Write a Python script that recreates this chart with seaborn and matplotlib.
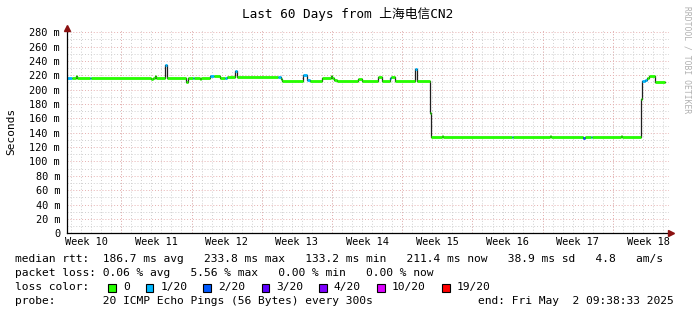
import numpy as np
import pandas as pd
import matplotlib
matplotlib.use("Agg")
import matplotlib.pyplot as plt
from matplotlib.patches import Rectangle
import seaborn as sns

# ---------------- data ----------------
# step start times (days since start of the 60-day window), median rtt (ms), loss bucket index
t_days = [0.0, 0.5, 0.9, 1.0, 2.3, 2.4, 8.4, 8.6, 8.8, 8.9, 9.8, 10.0, 11.9, 12.1,
          12.6, 12.7, 13.3, 13.4, 14.3, 14.7, 15.2, 15.7, 15.9, 16.7, 16.9, 21.0,
          21.3, 21.4, 23.5, 23.9, 24.2, 25.4, 26.3, 26.4, 26.6, 26.9, 29.0, 29.4,
          31.0, 31.4, 32.2, 32.3, 32.7, 34.7, 34.9, 36.2, 36.3, 37.4, 37.5, 44.4,
          44.5, 48.1, 48.2, 51.4, 51.6, 52.2, 52.3, 55.2, 55.3, 57.2, 57.3, 57.6,
          57.8, 58.0, 58.6]
t_end = 59.6
median_ms = [216.5, 216.5, 218.8, 216.5, 216.5, 216.5, 214.6, 216.5, 218.4, 216.5,
             233.8, 216.5, 210.9, 216.5, 216.5, 216.5, 215.0, 216.5, 218.8, 218.5,
             216.5, 215.5, 217.9, 226.0, 218.2, 218.2, 215.0, 212.3, 220.7, 213.7,
             212.2, 215.6, 218.6, 216.5, 214.0, 212.2, 214.5, 212.2, 218.0, 212.2,
             216.0, 218.0, 212.2, 228.6, 212.2, 167.0, 133.6, 135.0, 133.6, 133.6,
             133.6, 135.0, 133.6, 133.2, 133.6, 133.6, 133.6, 135.0, 133.6, 187.0,
             212.0, 214.0, 216.0, 219.3, 211.2]
loss_idx = [1, 0, 0, 0, 1, 0, 0, 0, 0, 0, 1, 0, 0, 0, 1, 0, 0, 0, 1, 0, 0, 1, 0, 1, 0,
            1, 0, 0, 1, 1, 0, 0, 0, 0, 0, 0, 0, 0, 0, 0, 1, 0, 0, 1, 0, 0, 0, 0, 0, 1,
            0, 0, 0, 2, 0, 1, 0, 0, 0, 0, 1, 1, 0, 0, 0]

loss_labels = ["0", "1/20", "2/20", "3/20", "4/20", "10/20", "19/20"]
loss_colors = ["#26ff00", "#00b8ff", "#0059ff", "#5e00ff", "#7e00ff", "#dd00ff", "#ff0000"]

week_labels = ["Week 10", "Week 11", "Week 12", "Week 13", "Week 14",
               "Week 15", "Week 16", "Week 17", "Week 18"]
week_start_days = [5.41 - 7 + 7 * i for i in range(10)]   # week boundaries (days)
y_ticks = [0, 20, 40, 60, 80, 100, 120, 140, 160, 180, 200, 220, 240, 260, 280]
y_tick_labels = ["0"] + [f"{v} m" for v in y_ticks[1:]]

title = "Last 60 Days from 上海电信CN2"
stats_line1 = "median rtt:  186.7 ms avg   233.8 ms max   133.2 ms min   211.4 ms now   38.9 ms sd   4.8   am/s"
stats_line2 = "packet loss: 0.06 % avg   5.56 % max   0.00 % min   0.00 % now"
probe_line = "probe:       20 ICMP Echo Pings (56 Bytes) every 300s"
end_line = "end: Fri May  2 09:38:33 2025"

# ---------------- figure ----------------
W, H = 697, 315
fig = plt.figure(figsize=(W / 100, H / 100), dpi=100)
fig.patch.set_facecolor("white")
plt.rcParams["font.family"] = ["DejaVu Sans Mono", "Noto Sans CJK SC"]
MONO = ["DejaVu Sans Mono", "Noto Sans CJK SC"]

ax_l, ax_r, ax_t, ax_b = 67, 669, 30.0, 233.3
ax = fig.add_axes([ax_l / W, 1 - ax_b / H, (ax_r - ax_l) / W, (ax_b - ax_t) / H])
ax.set_facecolor("white")
ax.set_xlim(0, 60)
ax.set_ylim(0, 283)

# grid
minor_col = "#cfcfcf"
major_col = "#e6b0b0"
for d in np.arange(0.41, 60, 1.0):
    ax.axvline(d, color=minor_col, lw=0.7, ls=(0, (1, 2)), zorder=0.5)
for y in range(10, 290, 20):
    ax.axhline(y, color=minor_col, lw=0.7, ls=(0, (1, 2)), zorder=0.5)
for d in week_start_days:
    if 0 < d < 60:
        ax.axvline(d, color=major_col, lw=0.7, ls=(0, (1, 2)), zorder=0.6)
for y in y_ticks[1:]:
    ax.axhline(y, color=major_col, lw=0.7, ls=(0, (1, 2)), zorder=0.6)

# median line (dark underlay, steps)
df = pd.DataFrame({"t": t_days + [t_end], "rtt": median_ms + [median_ms[-1]]})
sns.lineplot(data=df, x="t", y="rtt", ax=ax, color="#202020", lw=0.9,
             drawstyle="steps-post", estimator=None, zorder=3)

# loss-coloured median segments
t_next = t_days[1:] + [t_end]
for t0, t1, v, li in zip(t_days, t_next, median_ms, loss_idx):
    ax.hlines(v, t0, t1, colors=loss_colors[li], lw=2.0, zorder=4)

# axes styling
for s in ["top", "right"]:
    ax.spines[s].set_visible(False)
for s in ["left", "bottom"]:
    ax.spines[s].set_color("black")
    ax.spines[s].set_linewidth(0.9)
    ax.spines[s].set_zorder(5)

ax.set_yticks(y_ticks)
ax.set_yticklabels(y_tick_labels, fontsize=7.4, family=MONO)
ax.set_xticks([d + 3.5 for d in week_start_days[:9]])
ax.set_xticklabels(week_labels, fontsize=7.4, family=MONO)
ax.tick_params(axis="both", which="major", length=0)
ax.tick_params(axis="y", pad=5.0)
ax.tick_params(axis="x", pad=3.0)
ax.set_xlabel("")
ax.set_ylabel("")

# arrows
ax.plot([0], [1.0 + 2.5 / (ax_b - ax_t)], marker="^", color="#8b1010", ms=4.5,
        transform=ax.transAxes, clip_on=False, zorder=6)
ax.plot([1.0 + 2.5 / (ax_r - ax_l)], [0], marker=">", color="#8b1010", ms=4.5,
        transform=ax.transAxes, clip_on=False, zorder=6)

# texts
def fx(px):
    return px / W

def fy(py):
    return 1 - py / H

fig.text(fx(347.5), fy(14), title, ha="center", va="center", fontsize=9.2, family=MONO)
fig.text(fx(11), fy(131.5), "Seconds", rotation=90, ha="center", va="center",
         fontsize=8.0, family=MONO)
fig.text(fx(687), fy(60), "RRDTOOL / TOBI OETIKER", rotation=270, ha="center",
         va="center", fontsize=5.8, family=MONO, color="#b0b0b0")

fs = 8.1
fig.text(fx(15), fy(259.3), stats_line1, ha="left", va="center", fontsize=fs, family=MONO)
fig.text(fx(15), fy(273.3), stats_line2, ha="left", va="center", fontsize=fs, family=MONO)
fig.text(fx(15), fy(287.3), "loss color:", ha="left", va="center", fontsize=fs, family=MONO)
fig.text(fx(15), fy(301.0), probe_line, ha="left", va="center", fontsize=fs, family=MONO)
fig.text(fx(478), fy(301.0), end_line, ha="left", va="center", fontsize=fs, family=MONO)

sw_x = [108.3, 145.7, 203.3, 261.7, 319.3, 377.3, 442.3]
for x0, lab, col in zip(sw_x, loss_labels, loss_colors):
    fig.add_artist(Rectangle((fx(x0), fy(291.5)), 7.5 / W, 7.5 / H,
                             transform=fig.transFigure, facecolor=col,
                             edgecolor="black", lw=0.8))
    fig.text(fx(x0 + 14.5), fy(287.3), lab, ha="left", va="center", fontsize=fs, family=MONO)

fig.savefig("out.png", dpi=100, facecolor="white")
